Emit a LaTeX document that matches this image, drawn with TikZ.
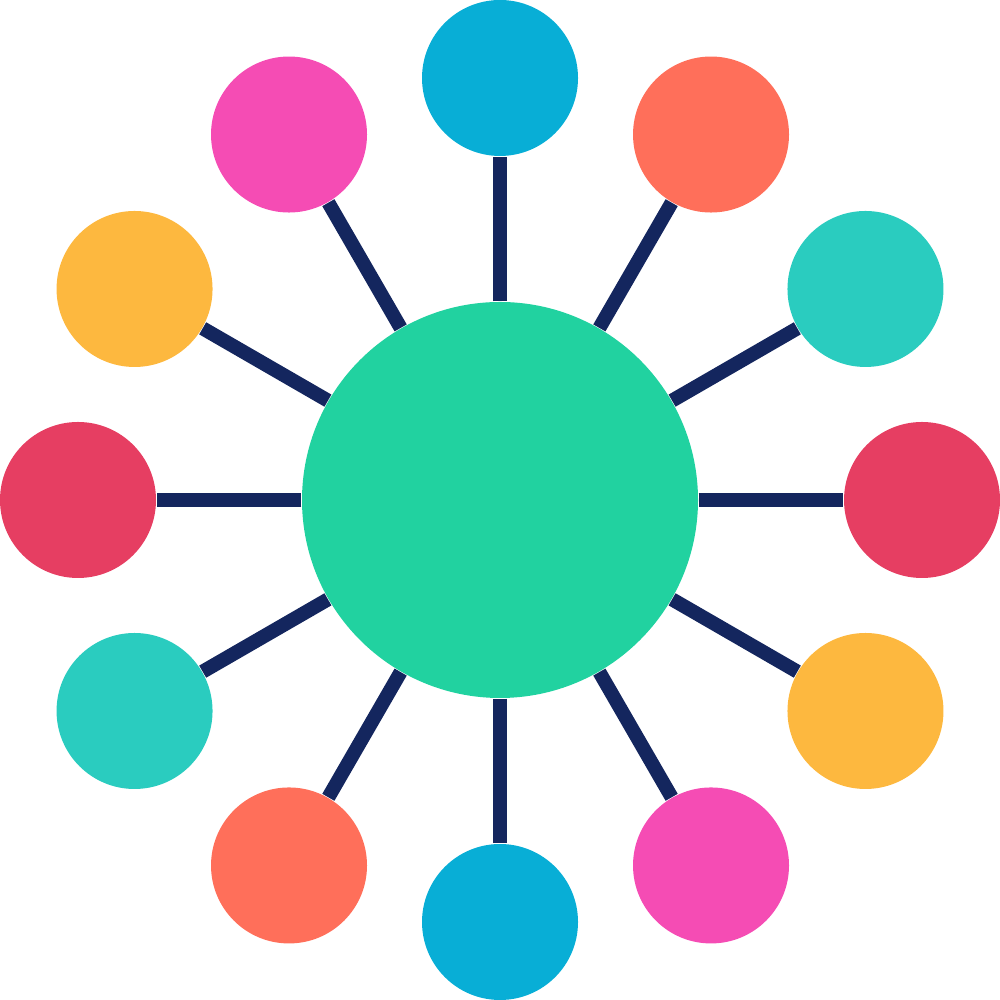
\documentclass[tikz,border=0pt]{standalone}
\usetikzlibrary{calc}
\definecolor{cblue}{HTML}{08AED6}
\definecolor{corange}{HTML}{FF6F5A}
\definecolor{cteal}{HTML}{2ACCBF}
\definecolor{cred}{HTML}{E63E62}
\definecolor{cyellow}{HTML}{FDB83F}
\definecolor{cpink}{HTML}{F54CB4}
\definecolor{cgreen}{HTML}{21D2A0}
\definecolor{cnavy}{HTML}{14265E}
\begin{document}
\begin{tikzpicture}[
  hub/.style={circle,fill=cgreen,minimum size=3.96cm,inner sep=0pt},
  leaf/.style={circle,fill=#1,minimum size=1.56cm,inner sep=0pt},
  link/.style={draw=cnavy,line width=0.14cm}]
\useasboundingbox (0,0) rectangle (10,10);
\node[hub] (c) at (5,5) {};
\foreach \a/\col [count=\i] in {90/cblue,60/corange,30/cteal,0/cred,-30/cyellow,-60/cpink,-90/cblue,-120/corange,-150/cteal,180/cred,150/cyellow,120/cpink}{
  \node[leaf=\col] (n\i) at ($(5,5)+(\a:4.22)$) {};
  \draw[link] (c) -- (n\i);
}
\end{tikzpicture}
\end{document}
